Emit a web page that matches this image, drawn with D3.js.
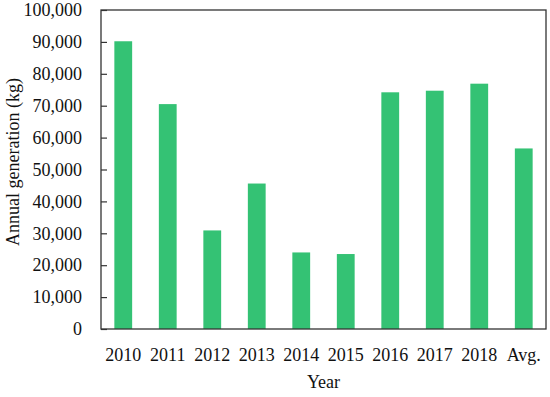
<!DOCTYPE html>
<html>
<head>
<meta charset="utf-8">
<script src="https://cdn.jsdelivr.net/npm/d3@7"></script>
<style>
  body { margin: 0; background: #fff; }
  svg text { font-family: "Liberation Serif", "DejaVu Serif", serif; fill: #111; }
</style>
</head>
<body>
<script>
// data
var years = ["2010", "2011", "2012", "2013", "2014", "2015", "2016", "2017", "2018", "Avg."];
var generation = [90200, 70500, 30900, 45600, 24000, 23500, 74200, 74700, 76900, 56600];
var yTicks = [0, 10000, 20000, 30000, 40000, 50000, 60000, 70000, 80000, 90000, 100000];

var w = 550;
var h = 397;
var m = {top: 10, right: 4, bottom: 68, left: 101};
var fs = "18px";

var svg = d3.select("body")
  .append("svg")
  .attr("width", w)
  .attr("height", h);

var x = d3.scaleBand()
  .domain(years)
  .range([m.left, w - m.right])
  .paddingInner(0.6)
  .paddingOuter(0.3);

var y = d3.scaleLinear()
  .domain([0, 100000])
  .range([h - m.bottom, m.top]);

// bars
svg.selectAll("rect.bar")
  .data(generation)
  .enter()
  .append("rect")
  .attr("class", "bar")
  .attr("x", function(d, i) { return x(years[i]); })
  .attr("y", function(d) { return y(d); })
  .attr("width", x.bandwidth())
  .attr("height", function(d) { return y(0) - y(d); })
  .attr("fill", "#34c274");

// frame
svg.append("rect")
  .attr("x", m.left)
  .attr("y", m.top)
  .attr("width", w - m.right - m.left)
  .attr("height", h - m.bottom - m.top)
  .attr("fill", "none")
  .attr("stroke", "#333")
  .attr("stroke-width", 1.3);

// y axis, ticks pointing inward
var yAxis = svg.append("g")
  .attr("transform", "translate(" + m.left + ",0)")
  .call(d3.axisLeft(y)
    .tickValues(yTicks)
    .tickSizeInner(-6)
    .tickSizeOuter(0)
    .tickPadding(19)
    .tickFormat(d3.format(",")));
yAxis.select(".domain").remove();
yAxis.selectAll("line").attr("stroke", "#333").attr("stroke-width", 1.2);
yAxis.selectAll("text")
  .attr("font-size", fs)
  .attr("font-family", "Liberation Serif, serif")
  .attr("fill", "#111");

// x axis labels only
var xAxis = svg.append("g")
  .attr("transform", "translate(0," + (h - m.bottom) + ")")
  .call(d3.axisBottom(x).tickSize(0).tickPadding(19));
xAxis.select(".domain").remove();
xAxis.selectAll("text")
  .attr("font-size", fs)
  .attr("font-family", "Liberation Serif, serif")
  .attr("fill", "#111");

// axis titles
svg.append("text")
  .text("Year")
  .attr("text-anchor", "middle")
  .attr("x", (m.left + w - m.right) / 2)
  .attr("y", 388)
  .attr("font-size", fs);

svg.append("text")
  .text("Annual generation (kg)")
  .attr("text-anchor", "middle")
  .attr("transform", "translate(18.5,162) rotate(-90)")
  .attr("font-size", fs);
</script>
</body>
</html>
